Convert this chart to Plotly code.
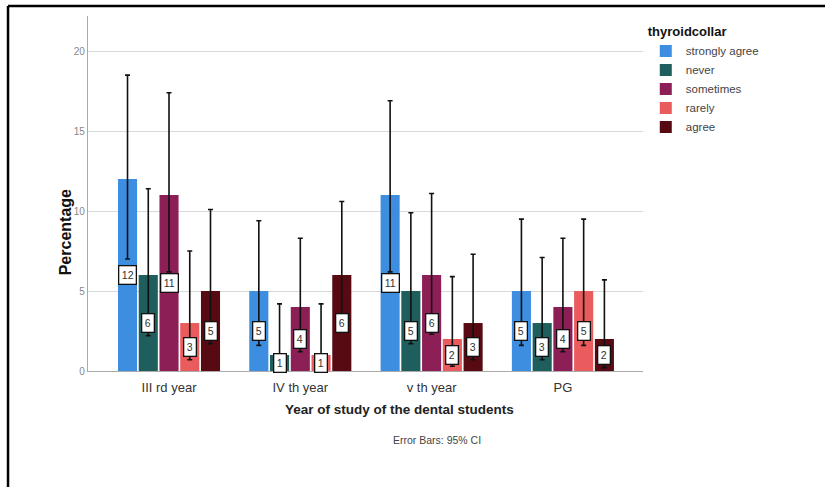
import plotly.graph_objects as go

categories = ["III rd year", "IV th year", "v th year", "PG"]
series_names = ["strongly agree", "never", "sometimes", "rarely", "agree"]
colors = ["#3d8ee0", "#1e5e5c", "#8c1f55", "#ea5b5d", "#570a12"]

strongly_agree = [12, 5, 11, 5]
never = [6, 1, 5, 3]
sometimes = [11, 4, 6, 4]
rarely = [3, 1, 2, 5]
agree = [5, 6, 3, 2]

ci_upper_strongly_agree = [18.5, 9.4, 16.9, 9.5]
ci_lower_strongly_agree = [7.0, 1.6, 6.2, 1.6]
ci_upper_never = [11.4, 4.2, 9.9, 7.1]
ci_lower_never = [2.2, 0.0, 1.7, 0.7]
ci_upper_sometimes = [17.4, 8.3, 11.1, 8.3]
ci_lower_sometimes = [6.2, 1.2, 2.3, 1.2]
ci_upper_rarely = [7.5, 4.2, 5.9, 9.5]
ci_lower_rarely = [0.7, 0.0, 0.3, 1.6]
ci_upper_agree = [10.1, 10.6, 7.3, 5.7]
ci_lower_agree = [1.7, 2.5, 0.7, 0.2]

values = [strongly_agree, never, sometimes, rarely, agree]
uppers = [ci_upper_strongly_agree, ci_upper_never, ci_upper_sometimes, ci_upper_rarely, ci_upper_agree]
lowers = [ci_lower_strongly_agree, ci_lower_never, ci_lower_sometimes, ci_lower_rarely, ci_lower_agree]

BARGAP = 0.21
BARGROUPGAP = 0.08
n_series = len(series_names)
xs = list(range(len(categories)))

fig = go.Figure()
for i, name in enumerate(series_names):
    v = values[i]
    fig.add_trace(go.Bar(
        x=xs, y=v, name=name,
        marker=dict(color=colors[i], line=dict(width=0)),
        error_y=dict(
            type="data", symmetric=False,
            array=[u - a for u, a in zip(uppers[i], v)],
            arrayminus=[a - l for a, l in zip(v, lowers[i])],
            color="#111111", thickness=1.6, width=2.5,
        ),
    ))

# value labels in boxes at bar mid-heights
slot = (1 - BARGAP) / n_series
annotations = []
for i in range(n_series):
    off = -(1 - BARGAP) / 2 + (i + 0.5) * slot
    for j, val in enumerate(values[i]):
        annotations.append(dict(
            x=xs[j] + off, y=val / 2, xref="x", yref="y",
            text=str(val), showarrow=False,
            font=dict(family="Liberation Sans, Arial", size=10.5, color="#333333"),
            bgcolor="white", bordercolor="#111111", borderwidth=1.3, borderpad=2.5,
        ))

annotations += [
    dict(x=0.562, y=-0.135, xref="paper", yref="paper", showarrow=False,
         text="<b>Year of study of the dental students</b>",
         font=dict(family="Liberation Sans, Arial", size=13.5, color="#222222")),
    dict(x=0.629, y=-0.217, xref="paper", yref="paper", showarrow=False,
         text="Error Bars: 95% CI",
         font=dict(family="Liberation Sans, Arial", size=10.5, color="#444444")),
    dict(x=-0.0595, y=0.392, xref="paper", yref="paper", showarrow=False,
         text="<b>Percentage</b>", textangle=-90,
         font=dict(family="Liberation Sans, Arial", size=16, color="#111111")),
]

fig.update_layout(
    width=825, height=487,
    margin=dict(l=88, r=182, t=16, b=116),
    paper_bgcolor="white", plot_bgcolor="white",
    barmode="group", bargap=BARGAP, bargroupgap=BARGROUPGAP,
    font=dict(family="Liberation Sans, Arial", color="#333333"),
    showlegend=True,
    legend=dict(
        x=1.005, y=0.99, xanchor="left", yanchor="top",
        bgcolor="rgba(255,255,255,0)",
        title=dict(text="<b>thyroidcollar</b>", font=dict(size=13, color="#111111")),
        font=dict(size=11.5, color="#444444"),
        tracegroupgap=0, itemwidth=30,
    ),
    annotations=annotations,
    shapes=[
        dict(type="line", xref="paper", yref="paper", x0=-0.1441, x1=1.33, y0=1.028, y1=1.028,
             line=dict(color="black", width=2.5)),
        dict(type="line", xref="paper", yref="paper", x0=-0.1441, x1=-0.1441, y0=1.028, y1=-0.33,
             line=dict(color="black", width=2.5)),
    ],
)
fig.update_xaxes(
    tickmode="array", tickvals=xs, ticktext=categories,
    range=[-0.617, 3.61], showgrid=False, zeroline=False,
    showline=True, linecolor="#aaaaaa", linewidth=1.2, ticks="",
    ticklabelstandoff=4,
    tickfont=dict(size=13, color="#333333"),
)
fig.update_yaxes(
    range=[0, 22.2], tickvals=[0, 5, 10, 15, 20],
    showgrid=True, gridcolor="#d9d9d9", gridwidth=1.2, zeroline=False,
    showline=True, linecolor="#aaaaaa", linewidth=1.2, ticks="",
    tickfont=dict(size=10, color="#888888"),
)

fig.write_html("out.html")
